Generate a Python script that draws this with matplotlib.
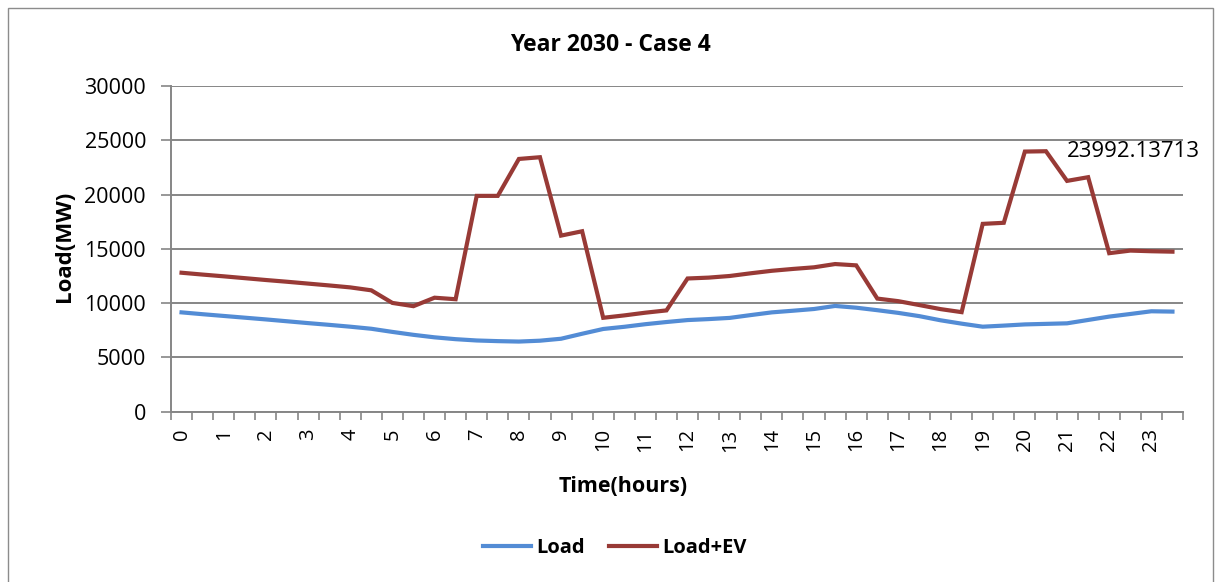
import numpy as np
import matplotlib
matplotlib.use("Agg")
import matplotlib.pyplot as plt
from matplotlib.patches import Rectangle

# ---- data (48 half-hour categories, labelled every hour) ----
hour_labels = [str(h) for h in range(24)]
load = [9150, 8980, 8820, 8660, 8500, 8330, 8160, 8000, 7830, 7640,
        7350, 7080, 6850, 6680, 6560, 6500, 6460, 6540, 6720, 7180,
        7620, 7820, 8060, 8260, 8440, 8530, 8640, 8900, 9150, 9300,
        9460, 9740, 9580, 9350, 9100, 8800, 8420, 8110, 7830, 7930,
        8040, 8090, 8140, 8450, 8760, 9000, 9250, 9220]
load_ev = [12800, 12630, 12470, 12300, 12130, 11970, 11800, 11630, 11450, 11180,
           10020, 9720, 10500, 10360, 19880, 19880, 23280, 23440, 16220, 16620,
           8650, 8870, 9120, 9330, 12270, 12350, 12500, 12750, 12980, 13150,
           13300, 13600, 13480, 10420, 10180, 9820, 9450, 9170, 17300, 17400,
           23960, 23992.13713, 21260, 21600, 14600, 14840, 14780, 14740]
peak_label = "23992.13713"
yticks = [0, 5000, 10000, 15000, 20000, 25000, 30000]

W, H = 1216, 582
plt.rcParams['font.family'] = ['Open Sans', 'DejaVu Sans']
fig = plt.figure(figsize=(W / 100, H / 100), dpi=100)
fig.patch.set_facecolor('white')

# outer chart border
fig.add_artist(Rectangle((8 / W, -0.05), (1213 - 8) / W, 1.05 - 8 / H,
                         transform=fig.transFigure, fill=False,
                         edgecolor='#8c8c8c', linewidth=1.0))

ax = fig.add_axes([171 / W, 1 - 411.7 / H, (1183 - 171) / W, (411.7 - 86) / H])
x = np.arange(len(load))
blue = '#538CD5'
red = '#983A36'
ax.plot(x, load, color=blue, lw=3.0, label='Load', solid_joinstyle='round', zorder=3)
ax.plot(x, load_ev, color=red, lw=3.0, label='Load+EV', solid_joinstyle='miter', zorder=3)

ax.set_xlim(-0.5, len(load) - 0.5)
ax.set_ylim(0, 30000)
ax.set_yticks(yticks)
ax.set_yticklabels([str(v) for v in yticks])
ax.yaxis.grid(True, color='#868686', lw=1.4)
ax.set_axisbelow(True)

ax.set_xticks(np.arange(0, len(load), 2))
ax.set_xticklabels(hour_labels, rotation=90)
ax.set_xticks(np.arange(-0.5, len(load), 1), minor=True)
ax.tick_params(axis='x', which='major', length=0, pad=12, labelsize=14.5)
ax.tick_params(axis='x', which='minor', length=6, width=1.2, color='#868686', direction='out')
ax.tick_params(axis='y', length=7, width=1.2, color='#868686', pad=11, labelsize=15.5)

for s in ['top', 'right']:
    ax.spines[s].set_visible(False)
for s in ['left', 'bottom']:
    ax.spines[s].set_color('#868686')
    ax.spines[s].set_linewidth(1.4)

# peak data label (right of point)
imax = int(np.argmax(load_ev))
ax.annotate(peak_label, xy=(x[imax], load_ev[imax]), xytext=(15, 0),
            textcoords='offset points', ha='left', va='center', fontsize=16)

fig.text(610 / W, 1 - 45 / H, 'Year 2030 - Case 4', ha='center', va='center',
         fontsize=16.5, fontweight='bold')
fig.text(65 / W, 1 - 246 / H, 'Load(MW)', ha='center', va='center',
         rotation=90, fontsize=16, fontweight='bold')
fig.text(623 / W, 1 - 487 / H, 'Time(hours)', ha='center', va='center',
         fontsize=15.5, fontweight='bold')

fig.legend(loc='center', bbox_to_anchor=(615 / W, 1 - 548 / H), ncol=2,
           frameon=False, prop={'weight': 'bold', 'size': 14.5},
           handlelength=2.4, handletextpad=0.25, columnspacing=1.2)

fig.savefig('out.png', dpi=100)
